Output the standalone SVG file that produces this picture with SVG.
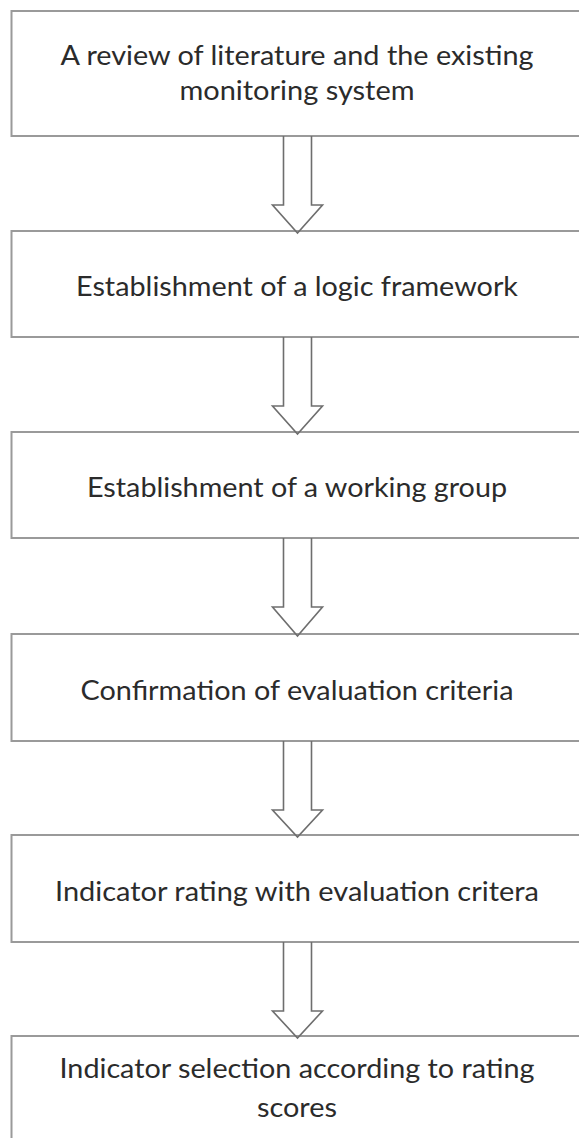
<svg xmlns="http://www.w3.org/2000/svg" width="579" height="1138" viewBox="0 0 579 1138">
<style>
.box{fill:#fff;stroke:#9a9a9a;stroke-width:2}
.arr{fill:none;stroke:#6e6e6e;stroke-width:1.6;stroke-linejoin:miter}
.t{font-family:Lato,"Open Sans","Liberation Sans",sans-serif;font-size:27px;fill:#2b2b2b;text-anchor:middle}
</style>
<rect width="579" height="1138" fill="#fff"/>
<g id="n1"><rect class="box" x="11.5" y="11" width="572" height="125"/>
<text class="t" x="297" y="65" textLength="473" lengthAdjust="spacingAndGlyphs">A review of literature and the existing</text>
<text class="t" x="297" y="100" textLength="235" lengthAdjust="spacingAndGlyphs">monitoring system</text></g>
<g id="n2"><rect class="box" x="11.5" y="231" width="572" height="106"/>
<text class="t" x="297" y="296" textLength="442" lengthAdjust="spacingAndGlyphs">Establishment of a logic framework</text></g>
<g id="n3"><rect class="box" x="11.5" y="432" width="572" height="106"/>
<text class="t" x="297" y="497" textLength="420" lengthAdjust="spacingAndGlyphs">Establishment of a working group</text></g>
<g id="n4"><rect class="box" x="11.5" y="634" width="572" height="107"/>
<text class="t" x="297" y="700" textLength="433" lengthAdjust="spacingAndGlyphs">Confirmation of evaluation criteria</text></g>
<g id="n5"><rect class="box" x="11.5" y="835" width="572" height="107"/>
<text class="t" x="297" y="901" textLength="484" lengthAdjust="spacingAndGlyphs">Indicator rating with evaluation critera</text></g>
<g id="n6"><rect class="box" x="11.5" y="1036" width="572" height="120"/>
<text class="t" x="297" y="1078" textLength="475" lengthAdjust="spacingAndGlyphs">Indicator selection according to rating</text>
<text class="t" x="297" y="1117" textLength="80" lengthAdjust="spacingAndGlyphs">scores</text></g>
<g id="connectors">
<path class="arr" d="M283.5 136V205H272.5L297.5 233L322.5 205H311.5V136"/>
<path class="arr" d="M283.5 337V406H272.5L297.5 434L322.5 406H311.5V337"/>
<path class="arr" d="M283.5 538V607H272.5L297.5 636L322.5 607H311.5V538"/>
<path class="arr" d="M283.5 741V810H272.5L297.5 837L322.5 810H311.5V741"/>
<path class="arr" d="M283.5 942V1011H272.5L297.5 1038L322.5 1011H311.5V942"/>
</g>
</svg>
